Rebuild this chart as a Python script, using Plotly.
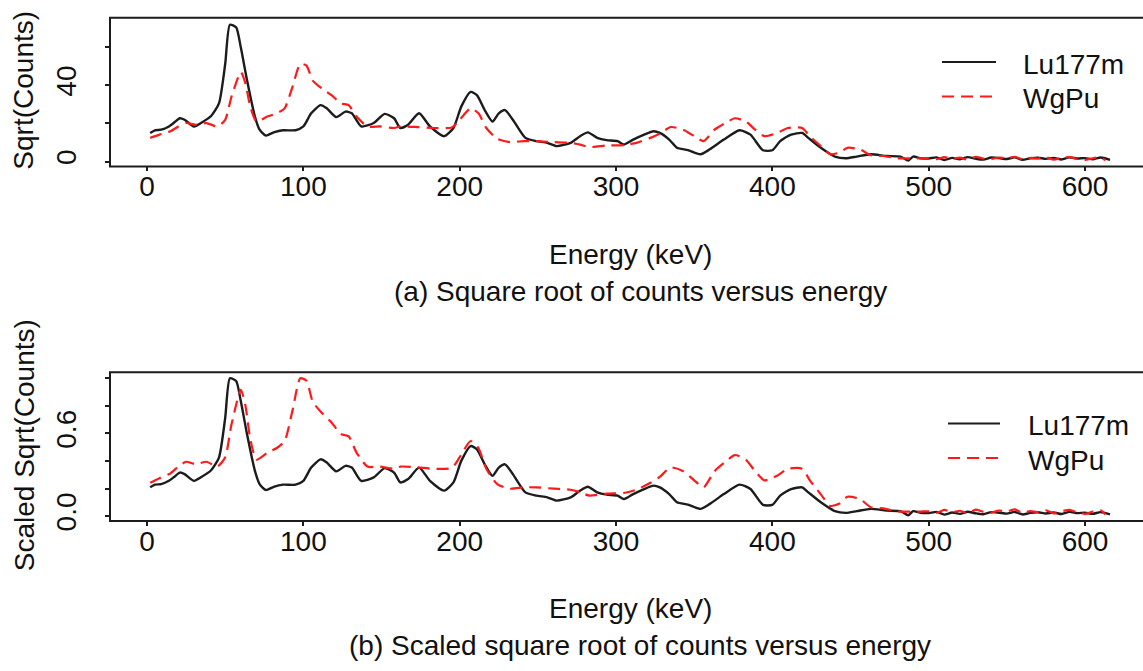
import plotly.graph_objects as go

W, H = 1143, 671

# Lu177m spectrum: energy (keV) and square root of counts
lu_energy = [2, 5, 9, 14, 17, 21, 24, 30, 35, 41, 46, 50, 53, 57, 60, 64, 69, 72, 76, 81,
             87, 95, 100, 105, 111, 115, 121, 127, 131, 137, 145, 152, 158, 162, 167, 174,
             181, 190, 196, 201, 207, 211, 216, 221, 225, 229, 234, 242, 249, 256, 262, 271,
             277, 282, 288, 294, 301, 305, 311, 318, 324, 328, 334, 339, 346, 354, 360, 369,
             379, 386, 394, 400, 405, 412, 419, 423, 431, 440, 447, 454, 463, 473, 482, 487,
             490, 495, 500, 505, 510, 515, 520, 525, 530, 535, 540, 545, 550, 555, 560, 565,
             570, 575, 580, 585, 590, 595, 600, 605, 610, 616]
lu_sqrt = [15.0, 16.4, 16.7, 18.4, 20.2, 22.7, 21.9, 18.4, 20.5, 23.9, 30.5, 51.2, 71.8, 70.4,
           59.8, 42.5, 23.6, 16.7, 13.6, 15.3, 16.4, 16.4, 18.4, 25.3, 29.6, 27.9, 23.3, 26.2,
           25.3, 18.4, 20.2, 25.0, 22.7, 17.6, 19.3, 25.3, 18.4, 13.3, 17.6, 28.8, 36.5, 34.8,
           27.0, 21.0, 25.3, 27.0, 21.9, 12.4, 10.7, 9.8, 8.1, 9.8, 13.3, 15.3, 12.4, 11.2,
           10.7, 8.9, 11.5, 14.1, 15.9, 15.0, 11.5, 7.2, 6.0, 3.8, 6.4, 11.5, 16.4, 14.1, 5.9,
           5.9, 10.7, 14.1, 15.0, 12.4, 7.2, 2.6, 1.7, 2.6, 3.8, 2.9, 2.6, 0.5, 2.6, 1.7,
           1.6, 2.2, 0.8, 1.9, 1.2, 2.3, 1.5, 1.0, 2.1, 1.8, 1.3, 2.2, 0.9, 1.7, 2.0, 1.4,
           1.9, 1.1, 2.2, 1.6, 1.8, 1.2, 2.1, 0.9, 1.7]

# WgPu spectrum: energy (keV) and square root of counts
pu_energy = [2, 8, 15, 20, 25, 31, 38, 45, 50, 54, 60, 63, 66, 70, 77, 83, 88, 93, 98, 102,
             106, 112, 118, 124, 129, 134, 141, 149, 158, 162, 173, 183, 195, 200, 207, 212,
             217, 224, 232, 241, 249, 260, 271, 277, 283, 294, 305, 313, 322, 328, 335, 343,
             350, 356, 363, 370, 376, 383, 389, 395, 403, 410, 419, 424, 431, 437, 443, 448,
             456, 463, 471, 480, 488, 495, 500, 505, 510, 515, 520, 525, 530, 535, 540, 545,
             550, 555, 560, 565, 570, 575, 580, 585, 590, 595, 600, 605, 610, 613]
pu_sqrt = [12.4, 14.1, 15.9, 18.4, 20.2, 19.3, 20.2, 18.4, 21.9, 34.0, 46.9, 40.8, 28.8, 21.0,
           23.6, 25.3, 27.9, 39.1, 51.2, 50.3, 42.5, 38.2, 34.8, 30.5, 29.6, 23.6, 18.4, 18.4,
           17.6, 18.4, 18.1, 17.6, 17.9, 21.9, 27.9, 25.3, 17.6, 11.9, 10.2, 10.7, 10.7, 10.2,
           9.8, 8.9, 7.6, 8.4, 8.6, 9.8, 12.4, 14.6, 18.1, 16.7, 13.3, 10.7, 16.7, 20.2, 22.7,
           21.0, 16.7, 13.3, 15.0, 17.6, 17.6, 13.3, 8.1, 3.8, 4.7, 7.2, 6.4, 3.3, 2.9, 1.7,
           1.7, 1.7, 1.8, 1.2, 2.3, 1.5, 2.0, 1.0, 2.4, 1.6, 1.3, 2.1, 1.7, 2.5, 1.2, 1.9,
           1.5, 2.2, 1.0, 1.8, 2.3, 1.4, 0.8, 1.7, 2.2, 0.6]

# Scaled spectra: each divided by its own maximum
lu_scaled = [v / max(lu_sqrt) for v in lu_sqrt]
pu_scaled = [v / max(pu_sqrt) for v in pu_sqrt]

x_ticks = [0, 100, 200, 300, 400, 500, 600]
y1_ticks, y1_text = [0, 20, 40, 60], ["0", "", "40", ""]
y2_ticks, y2_text = [0, 0.2, 0.4, 0.6, 0.8, 1.0], ["0.0", "", "", "0.6", "", ""]

FONT = "Liberation Sans, Arial, sans-serif"
FS = 28
BLACK = "#1c1c1c"
RED = "#ff1a1a"


def fx(px):
    return px / W


def fy(py):
    return 1 - py / H


fig = go.Figure()
panels = [("x", "y", lu_sqrt, pu_sqrt), ("x2", "y2", lu_scaled, pu_scaled)]
for xa, ya, lu, pu in panels:
    fig.add_trace(go.Scatter(x=lu_energy, y=lu, mode="lines", xaxis=xa, yaxis=ya,
                             line=dict(color=BLACK, width=2.4, shape="spline", smoothing=0.6),
                             showlegend=False))
    fig.add_trace(go.Scatter(x=pu_energy, y=pu, mode="lines", xaxis=xa, yaxis=ya,
                             line=dict(color=RED, width=2.2, dash="12px,7px",
                                       shape="spline", smoothing=0.6),
                             showlegend=False))

xcommon = dict(range=[-23.7, 637.1], tickvals=x_ticks, ticks="outside", ticklen=4,
               tickwidth=2, tickcolor=BLACK, showline=False, showgrid=False, zeroline=False,
               ticklabelstandoff=-9, tickfont=dict(family=FONT, size=FS, color="#111"))
ycommon = dict(ticks="outside", ticklen=4, tickwidth=2, tickcolor=BLACK, showline=False,
               showgrid=False, zeroline=False, tickangle=-90, ticklabelstandoff=18,
               tickfont=dict(family=FONT, size=FS, color="#111"))

fig.update_layout(
    width=W, height=H, margin=dict(l=0, r=0, t=0, b=0),
    paper_bgcolor="white", plot_bgcolor="white",
    xaxis=dict(domain=[fx(110), 1.0], anchor="y", **xcommon),
    yaxis=dict(domain=[fy(169), fy(18)], anchor="x", range=[-2.6, 75.45],
               tickvals=y1_ticks, ticktext=y1_text, **ycommon),
    xaxis2=dict(domain=[fx(110), 1.0], anchor="y2", **xcommon),
    yaxis2=dict(domain=[fy(529), fy(378)], anchor="x2", range=[-0.036, 1.043],
                tickvals=y2_ticks, ticktext=y2_text, **ycommon),
)

# Panel frames (open on the right where the page ends)
for xa, ya in [("x", "y"), ("x2", "y2")]:
    fig.add_shape(type="rect", xref=f"{xa} domain", yref=f"{ya} domain",
                  x0=0, x1=1.05, y0=0, y1=1, line=dict(color=BLACK, width=2))

# Legends
legends = [
    (942, 996, 63, 98, 1021),
    (948, 1000, 430, 465, 1026),
]
for x0, x1, ya, yb, tx in legends:
    fig.add_shape(type="line", xref="paper", yref="paper", x0=fx(x0), x1=fx(x1),
                  y0=fy(ya), y1=fy(ya), line=dict(color=BLACK, width=2))
    fig.add_shape(type="line", xref="paper", yref="paper", x0=fx(x0), x1=fx(x1),
                  y0=fy(yb), y1=fy(yb), line=dict(color=RED, width=2, dash="12px,7px"))
    for label, yy in [("Lu177m", ya), ("WgPu", yb)]:
        fig.add_annotation(text=label, xref="paper", yref="paper", x=fx(tx), y=fy(yy + 2),
                           xanchor="left", yanchor="middle", showarrow=False,
                           font=dict(family=FONT, size=FS, color="#111"))

# Axis titles and captions
texts = [
    ("Energy (keV)", 630, 258, 0),
    ("(a) Square root of counts versus energy", 640, 296, 0),
    ("Energy (keV)", 630, 618, 0),
    ("(b) Scaled square root of counts versus energy", 640, 655, 0),
    ("Sqrt(Counts)", 24, 92, -90),
    ("Scaled Sqrt(Counts)", 24, 452, -90),
]
for t, x, y, ang in texts:
    fig.add_annotation(text=t, xref="paper", yref="paper", x=fx(x), y=fy(y),
                       xanchor="center", yanchor="middle", showarrow=False, textangle=ang,
                       font=dict(family=FONT, size=FS, color="#111"))

fig.write_html("out.html")
